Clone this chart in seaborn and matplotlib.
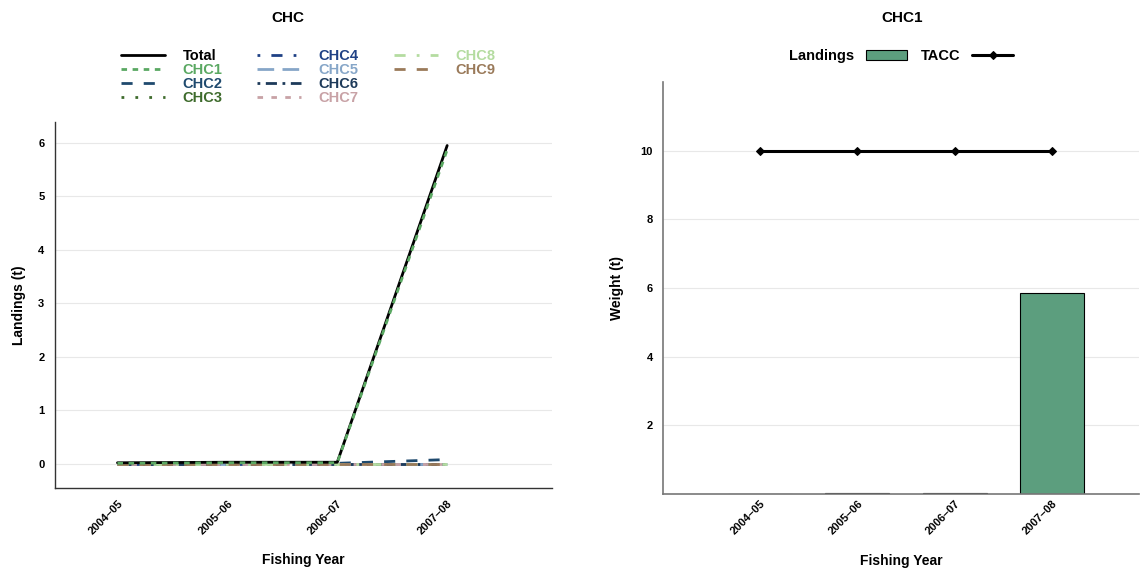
import numpy as np
import pandas as pd
import matplotlib
matplotlib.use("Agg")
import matplotlib.pyplot as plt
from matplotlib.lines import Line2D
import seaborn as sns

# Data
years = ["2004\u201305", "2005\u201306", "2006\u201307", "2007\u201308"]
total = [0.02, 0.03, 0.03, 5.95]
chc1 = [0.01, 0.02, 0.02, 5.87]
chc2 = [0.0, 0.005, 0.01, 0.08]
chc3 = [0.0, 0.0, 0.0, 0.0]
chc4 = [0.0, 0.0, 0.0, 0.0]
chc5 = [0.0, 0.0, 0.0, 0.0]
chc6 = [0.0, 0.0, 0.0, 0.0]
chc7 = [0.0, 0.0, 0.0, 0.0]
chc8 = [0.0, 0.0, 0.0, 0.0]
chc9 = [0.0, 0.0, 0.0, 0.0]
landings_chc1 = [0.01, 0.02, 0.02, 5.87]
tacc_chc1 = [10, 10, 10, 10]

series_names = ["Total", "CHC1", "CHC2", "CHC3", "CHC4", "CHC5", "CHC6", "CHC7", "CHC8", "CHC9"]
series_vals = [total, chc1, chc2, chc3, chc4, chc5, chc6, chc7, chc8, chc9]
series_cols = ["#000000", "#5aa862", "#1f4a6e", "#3e6b2c", "#1f4185",
               "#86a6c8", "#1d3a5a", "#c8a2a6", "#b4dca0", "#9a7a5a"]
series_dash = [None, (2, 2), (4, 4), (1, 4), (1, 4, 4, 4), (6, 3),
               (1, 2, 4, 2), (2, 3), (4, 4, 1, 4), (4, 4)]

sns.set_style("white")
plt.rcParams["font.family"] = ["Liberation Sans", "DejaVu Sans"]
plt.rcParams["font.weight"] = "bold"
plt.rcParams["text.color"] = "black"
plt.rcParams["axes.labelcolor"] = "black"
plt.rcParams["xtick.color"] = "black"
plt.rcParams["ytick.color"] = "black"

fig = plt.figure(figsize=(11.42, 5.70), dpi=100)
ax1 = fig.add_axes([0.048, 0.144, 0.435, 0.642])
ax2 = fig.add_axes([0.5806, 0.1333, 0.417, 0.7227])

pos = np.arange(len(years))

# left panel: landings by area
for name, vals, col, dash in zip(series_names, series_vals, series_cols, series_dash):
    df = pd.DataFrame({"x": pos, "y": vals})
    sns.lineplot(data=df, x="x", y="y", ax=ax1, color=col, lw=2, label=name, legend=False)
    ln = ax1.lines[-1]
    if dash is not None:
        ln.set_dashes(dash)
    ln.set_zorder(3 if name in ("Total", "CHC1") else 2)

ax1.set_xlim(-0.57, 3.95)
ax1.set_ylim(-0.45, 6.39)
ax1.set_yticks(range(0, 7))
ax1.set_xticks(pos)
ax1.set_xticklabels(years, rotation=45, ha="right", rotation_mode="anchor")
ax1.set_xlabel("Fishing Year", fontsize=10, fontweight="bold", labelpad=12)
ax1.set_ylabel("Landings (t)", fontsize=10, fontweight="bold", labelpad=9)
ax1.grid(axis="y", color="#e8e8e8", lw=0.8)
ax1.set_axisbelow(True)
for s in ["top", "right"]:
    ax1.spines[s].set_visible(False)
for s in ["left", "bottom"]:
    ax1.spines[s].set_color("#333333")
    ax1.spines[s].set_linewidth(1)
ax1.tick_params(axis="both", length=4, width=1, color="#333333", labelsize=8, direction="out")
for t in ax1.get_xticklabels() + ax1.get_yticklabels():
    t.set_fontweight("bold")

# pad the legend so columns hold 4, 4, 2 entries like the reference
h = list(ax1.lines)
blank = Line2D([], [], lw=0, color="none")
leg_handles = h + [blank, blank]
leg_labels = series_names + ["", ""]
leg = ax1.legend(leg_handles, leg_labels, ncol=3, loc="lower center",
                 bbox_to_anchor=(0.51, 1.011), frameon=False,
                 prop={"size": 10.5, "weight": "bold"}, handlelength=3.0,
                 handletextpad=1.2, columnspacing=2.4, labelspacing=0.0)
for t, col in zip(leg.get_texts(), series_cols + ["black", "black"]):
    t.set_color(col)
fig.text(0.252, 0.968, "CHC", ha="center", va="center", fontsize=11, fontweight="bold")

# right panel: CHC1 landings vs TACC
bdf = pd.DataFrame({"year": years, "Landings": landings_chc1})
sns.barplot(data=bdf, x="year", y="Landings", ax=ax2, color="#5c9e7e", saturation=1,
            width=0.66, edgecolor="black", linewidth=0.8, label="Landings")
tdf = pd.DataFrame({"x": pos, "TACC": tacc_chc1})
sns.lineplot(data=tdf, x="x", y="TACC", ax=ax2, color="black", lw=2.2, marker="D",
             markersize=4, markeredgecolor="black", label="TACC", legend=False)

ax2.set_xlim(-1.0, 3.9)
ax2.set_ylim(0, 12)
ax2.set_yticks([2, 4, 6, 8, 10])
ax2.set_xticks(pos)
ax2.set_xticklabels(years, rotation=45, ha="right", rotation_mode="anchor")
ax2.set_xlabel("Fishing Year", fontsize=10, fontweight="bold", labelpad=12)
ax2.set_ylabel("Weight (t)", fontsize=10, fontweight="bold", labelpad=12)
ax2.grid(axis="y", color="#e8e8e8", lw=0.8)
ax2.set_axisbelow(True)
for s in ["top", "right"]:
    ax2.spines[s].set_visible(False)
for s in ["left", "bottom"]:
    ax2.spines[s].set_color("#777777")
    ax2.spines[s].set_linewidth(1.2)
ax2.tick_params(axis="both", length=4, width=1, color="#333333", labelsize=8, direction="out")
ax2.tick_params(axis="x", length=0)
for t in ax2.get_xticklabels() + ax2.get_yticklabels():
    t.set_fontweight("bold")

bar_handle = ax2.patches[0]
line_handle = ax2.lines[-1]
leg2 = ax2.legend([bar_handle, line_handle], ["Landings", "TACC"], ncol=2,
                  loc="lower center", bbox_to_anchor=(0.5, 1.015), frameon=False,
                  prop={"size": 10.5, "weight": "bold"}, markerfirst=False,
                  handlelength=2.8, columnspacing=1.0, handletextpad=0.8)
fig.text(0.79, 0.968, "CHC1", ha="center", va="center", fontsize=11, fontweight="bold")

fig.savefig("out.png", dpi=100)
